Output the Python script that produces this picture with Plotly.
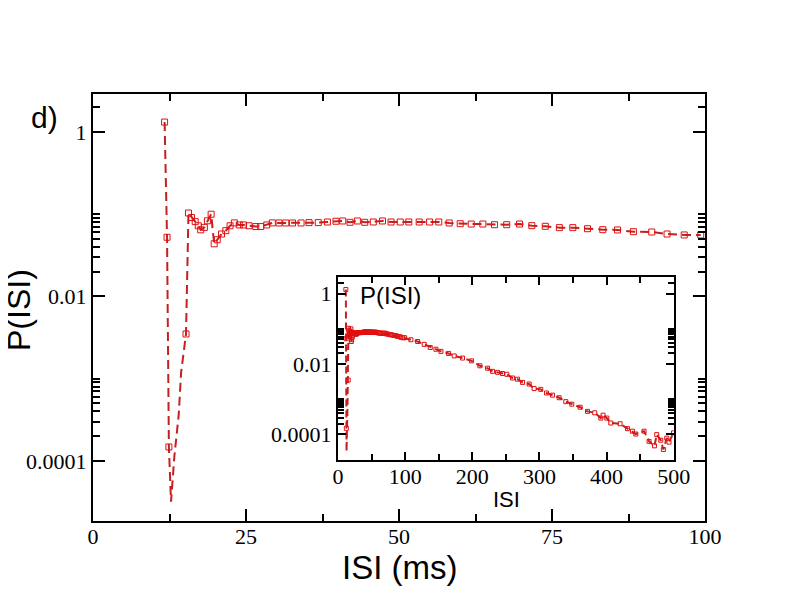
import plotly.graph_objects as go

# ISI histogram (ms, probability)
isi = [11.7, 12.1, 12.4, 12.75, 13.3, 14.0, 14.4, 15.2, 15.6, 16.1,
       16.7, 17.2, 17.6, 18.2, 18.7, 19.3, 19.8, 20.3, 21.0, 21.7,
       22.4, 23.1, 23.9, 24.6, 25.5, 26.6, 27.4, 28.4, 29.3, 30.4,
       31.5, 32.6, 34.0, 35.3, 36.8, 38.3, 39.7, 40.8, 42.0, 43.2,
       44.4, 45.8, 47.3, 48.7, 50.2, 51.6, 53.3, 55.0, 56.5, 58.2,
       60.0, 61.8, 63.7, 65.6, 67.6, 69.7, 71.7, 73.9, 76.2, 78.4,
       80.8, 83.3, 85.7, 88.3, 91.3, 93.8, 96.6, 99.3,
       108.6, 118.6, 128.4, 137.4, 145.8, 153.3, 164.7, 173.1, 185.5, 198.9,
       211.3, 222.7, 230.2, 237.6, 245.0, 251.5, 260.0, 267.4, 274.9, 284.7,
       292.1, 302.0, 310.6, 319.5, 329.3, 339.3, 348.2, 360.6, 371.6, 382.4,
       391.4, 394.8, 400.3, 406.3, 420.1, 431.1, 438.5, 443.5, 455.8, 463.3,
       471.3, 474.7, 480.7, 484.6, 489.6, 493.0, 499.6]
p_isi = [1.32, 0.0525, 1.48e-4, 3.2e-5, 1.15e-4, 3.6e-4, 1.2e-3, 3.5e-3, 0.1035, 0.0912,
         0.0813, 0.0724, 0.0646, 0.0692, 0.0832, 0.100, 0.0437, 0.0490, 0.0575, 0.0631,
         0.0724, 0.0785, 0.0741, 0.0741, 0.0724, 0.0708, 0.0708, 0.0741, 0.0785, 0.0783,
         0.0783, 0.0783, 0.0783, 0.0791, 0.0791, 0.0805, 0.0822, 0.0828, 0.0798, 0.0828,
         0.0798, 0.0805, 0.0828, 0.0805, 0.0805, 0.0805, 0.0805, 0.0805, 0.0805, 0.0783,
         0.0767, 0.0760, 0.0760, 0.0746, 0.0746, 0.0760, 0.0726, 0.0713, 0.0687, 0.0687,
         0.0667, 0.0649, 0.0644, 0.0614, 0.0608, 0.0575, 0.0560, 0.0560,
         0.0490, 0.0437, 0.0363, 0.0295, 0.0263, 0.0229, 0.0200, 0.0170, 0.0148, 0.0123,
         0.0089, 0.0076, 0.0062, 0.0058, 0.00537, 0.0051, 0.0040, 0.0037, 0.0030, 0.0027,
         0.0020, 0.0019, 0.0015, 0.0013, 0.0011, 8.5e-4, 7.2e-4, 5.9e-4, 4.5e-4, 4.1e-4,
         2.9e-4, 3.5e-4, 2.9e-4, 2.1e-4, 2.0e-4, 1.45e-4, 1.23e-4, 1.02e-4, 1.23e-4, 6.3e-5,
         4.7e-5, 9.8e-5, 6.8e-5, 3.7e-5, 7.8e-5, 6.0e-5, 1.1e-4]
# points of the steep dip that carry no square symbol
no_symbol = [12.75, 13.3, 14.0, 14.4]

y_major = [1e-4, 1e-2, 1]
y_major_text = ["0.0001", "0.01", "1"]
y_minor = ([k * 1e-4 for k in range(2, 11)] + [k * 1e-2 for k in range(2, 11)] + [2])

LINE_RED = "#c42020"
SYM_RED = "#e01010"
SERIF = "Liberation Serif"
SANS = "Liberation Sans"

sym_x = [x for x in isi if x not in no_symbol]
sym_y = [p for x, p in zip(isi, p_isi) if x not in no_symbol]
main_x = [x for x in isi if x <= 100]
main_y = p_isi[:len(main_x)]
main_sx = [x for x in sym_x if x <= 100]
main_sy = sym_y[:len(main_sx)]

fig = go.Figure()
# main panel
fig.add_trace(go.Scatter(x=main_x, y=main_y, mode="lines", xaxis="x", yaxis="y",
                         line=dict(color=LINE_RED, width=2, dash="9px,5px"),
                         showlegend=False))
fig.add_trace(go.Scatter(x=main_sx, y=main_sy, mode="markers", xaxis="x", yaxis="y",
                         marker=dict(symbol="square-open", size=6, color=SYM_RED,
                                     line=dict(width=1)),
                         showlegend=False))
# inset
fig.add_trace(go.Scatter(x=isi, y=p_isi, mode="lines", xaxis="x2", yaxis="y2",
                         line=dict(color=LINE_RED, width=2, dash="7px,4px"),
                         showlegend=False))
fig.add_trace(go.Scatter(x=sym_x, y=sym_y, mode="markers", xaxis="x2", yaxis="y2",
                         marker=dict(symbol="square-open", size=4, color=SYM_RED,
                                     line=dict(width=1)),
                         showlegend=False))

axis_common = dict(showline=True, linecolor="black", linewidth=2, mirror="allticks",
                   ticks="inside", tickcolor="black", tickwidth=2, showgrid=False,
                   zeroline=False)

fig.update_layout(
    width=792, height=612,
    margin=dict(l=85, r=95, t=86, b=99),
    paper_bgcolor="white", plot_bgcolor="white",
    xaxis=dict(domain=[0, 1], range=[0, 100], tickmode="array",
               tickvals=[0, 25, 50, 75, 100], ticklen=12, ticklabelstandoff=-5,
               tickfont=dict(family=SERIF, size=22, color="black"),
               minor=dict(tickmode="array", tickvals=[12.5, 37.5, 62.5, 87.5],
                          ticks="inside", ticklen=7, tickcolor="black", tickwidth=2),
               **axis_common),
    yaxis=dict(domain=[0, 1], type="log", range=[-4.73, 0.462], tickmode="array",
               tickvals=y_major, ticktext=y_major_text, ticklen=12,
               tickfont=dict(family=SERIF, size=22, color="black"),
               minor=dict(tickmode="array", tickvals=y_minor,
                          ticks="inside", ticklen=7, tickcolor="black", tickwidth=2),
               **axis_common),
    xaxis2=dict(domain=[0.4003, 0.9489], anchor="y2", range=[0, 500], tickmode="array",
                tickvals=[0, 100, 200, 300, 400, 500], ticklen=8, ticklabelstandoff=-4,
                tickfont=dict(family=SERIF, size=22, color="black"),
                minor=dict(tickmode="array", tickvals=[50, 150, 250, 350, 450],
                           ticks="inside", ticklen=6, tickcolor="black", tickwidth=2),
                **axis_common),
    yaxis2=dict(domain=[0.1429, 0.5703], anchor="x2", type="log", range=[-4.73, 0.462],
                tickmode="array", tickvals=y_major, ticktext=y_major_text, ticklen=8,
                tickfont=dict(family=SERIF, size=22, color="black"),
                minor=dict(tickmode="array", tickvals=y_minor,
                           ticks="inside", ticklen=6, tickcolor="black", tickwidth=2),
                **axis_common),
    annotations=[
        dict(text="ISI (ms)", xref="paper", yref="paper", x=0.5, y=-0.108,
             xanchor="center", yanchor="middle", showarrow=False,
             font=dict(family=SANS, size=33, color="black")),
        dict(text="P(ISI)", xref="paper", yref="paper", x=-0.122, y=0.495,
             xanchor="center", yanchor="middle", textangle=-90, showarrow=False,
             font=dict(family=SANS, size=32, color="black")),
        dict(text="d)", xref="paper", yref="paper", x=-0.080, y=0.946,
             xanchor="center", yanchor="middle", showarrow=False,
             font=dict(family=SANS, size=30, color="black")),
        dict(text="ISI", xref="paper", yref="paper", x=0.675, y=0.0515,
             xanchor="center", yanchor="middle", showarrow=False,
             font=dict(family=SANS, size=22, color="black")),
        dict(text="P(ISI)", xref="paper", yref="paper", x=0.433, y=0.529,
             xanchor="left", yanchor="middle", showarrow=False,
             font=dict(family=SANS, size=24, color="black")),
    ],
)

fig.write_html("out.html")
